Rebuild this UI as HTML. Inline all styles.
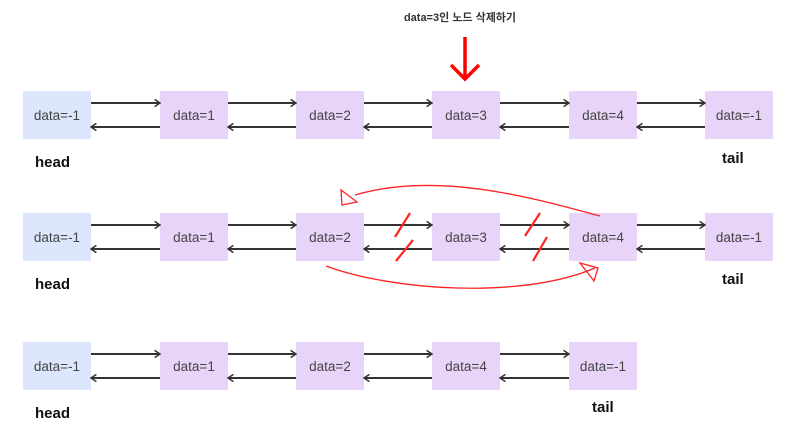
<!DOCTYPE html>
<html><head><meta charset="utf-8"><style>
body{margin:0;background:#fff;width:788px;height:437px;overflow:hidden}
svg{display:block}
text{font-family:"Liberation Sans","Noto Sans CJK KR",sans-serif}
</style></head><body>
<svg width="788" height="437" viewBox="0 0 788 437">
<defs>
<marker id="a" viewBox="0 0 10 10" refX="9" refY="5" markerWidth="9" markerHeight="9" orient="auto" markerUnits="userSpaceOnUse">
<path d="M3,1 L9,5 L3,9" fill="none" stroke="#333" stroke-width="1.6"/></marker>
</defs>
<text x="460" y="21" font-size="11" font-weight="bold" fill="#333" text-anchor="middle">data=3인 노드 삭제하기</text>
<path d="M465,37 V79 M451,65 L465,79 L479,65" stroke="#f00" stroke-width="3.5" fill="none"/>

<g id="r1">
<rect x="23" y="91" width="68" height="48" fill="#dce6fc"/>
<rect x="160" y="91" width="68" height="48" fill="#e8d4f8"/>
<rect x="296" y="91" width="68" height="48" fill="#e8d4f8"/>
<rect x="432" y="91" width="68" height="48" fill="#e8d4f8"/>
<rect x="569" y="91" width="68" height="48" fill="#e8d4f8"/>
<rect x="705" y="91" width="68" height="48" fill="#e8d4f8"/>
<g font-size="13.5" fill="#444" text-anchor="middle">
<text x="57" y="120">data=-1</text><text x="194" y="120">data=1</text><text x="330" y="120">data=2</text><text x="466" y="120">data=3</text><text x="603" y="120">data=4</text><text x="739" y="120">data=-1</text></g>
<g stroke="#333" stroke-width="2" marker-end="url(#a)">
<path d="M91,103H160"/><path d="M228,103H296"/><path d="M364,103H432"/><path d="M500,103H569"/><path d="M637,103H705"/>
<path d="M160,127H91"/><path d="M296,127H228"/><path d="M432,127H364"/><path d="M569,127H500"/><path d="M705,127H637"/></g>
</g>
<text x="35" y="167" font-size="15" font-weight="bold" fill="#111">head</text>
<text x="722" y="163" font-size="15" font-weight="bold" fill="#111">tail</text>

<use href="#r1" y="122"/>
<text x="35" y="289" font-size="15" font-weight="bold" fill="#111">head</text>
<text x="722" y="284" font-size="15" font-weight="bold" fill="#111">tail</text>
<g stroke="#f22" stroke-width="2.2" fill="none">
<path d="M395,237L410,213M396,261L413,240M525,236L540,213M533,261L547,237"/>
<path d="M600,216 C540,200 440,170 355,195" stroke-width="1.3"/>
<path d="M341,190 L342,205 L357,202 Z" stroke-width="1.3"/>
<path d="M326,266 C390,290 520,300 595,268" stroke-width="1.3"/>
<path d="M580,263 L598,268 L594,281 Z" stroke-width="1.3"/>
</g>

<rect x="23" y="342" width="68" height="48" fill="#dce6fc"/>
<rect x="160" y="342" width="68" height="48" fill="#e8d4f8"/>
<rect x="296" y="342" width="68" height="48" fill="#e8d4f8"/>
<rect x="432" y="342" width="68" height="48" fill="#e8d4f8"/>
<rect x="569" y="342" width="68" height="48" fill="#e8d4f8"/>
<g font-size="13.5" fill="#444" text-anchor="middle">
<text x="57" y="371">data=-1</text><text x="194" y="371">data=1</text><text x="330" y="371">data=2</text><text x="466" y="371">data=4</text><text x="603" y="371">data=-1</text></g>
<g stroke="#333" stroke-width="2" marker-end="url(#a)">
<path d="M91,354H160"/><path d="M228,354H296"/><path d="M364,354H432"/><path d="M500,354H569"/>
<path d="M160,378H91"/><path d="M296,378H228"/><path d="M432,378H364"/><path d="M569,378H500"/></g>
<text x="35" y="418" font-size="15" font-weight="bold" fill="#111">head</text>
<text x="592" y="412" font-size="15" font-weight="bold" fill="#111">tail</text>
</svg>
</body></html>
